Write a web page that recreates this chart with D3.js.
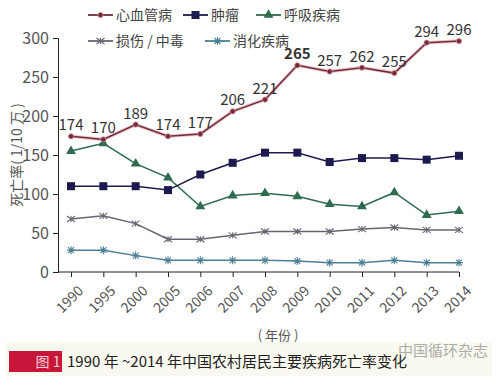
<!DOCTYPE html>
<html><head><meta charset="utf-8">
<script src="https://cdn.jsdelivr.net/npm/d3@7"></script>
<style>body{margin:0;background:#fff}svg{display:block}text{font-family:"Noto Sans CJK SC","Liberation Sans",sans-serif}</style>
</head><body><svg id="c" width="502" height="390"></svg>
<script>
const years = ["1990","1995","2000","2005","2006","2007","2008","2009","2010","2011","2012","2013","2014"];
const cardio = [174,170,189,174,177,206,221,265,257,262,255,294,296];
const tumor = [110,110,110,105,125,140,153,153,141,146,146,144,149];
const resp = [155,165,139,121,84,98,101,97,87,84,102,73,78];
const injury = [68,72,62,42,42,47,52,52,52,55,57,54,54];
const digest = [28,28,21,15,15,15,15,14,12,12,15,12,12];
const yTicks = [0,50,100,150,200,250,300];

const svg = d3.select("#c");
const x = d3.scalePoint().domain(years).range([71,459]);
const y = d3.scaleLinear().domain([0,300]).range([272,38]);

// y axis
const ya = svg.append("g").attr("transform","translate(58,0)")
  .call(d3.axisLeft(y).tickValues(yTicks).tickSize(5).tickPadding(4));
ya.select(".domain").attr("stroke","#222");
ya.selectAll(".tick line").attr("stroke","#222");
ya.selectAll("text").attr("font-size",16).attr("fill","#555").attr("font-family","Liberation Sans, sans-serif");

// x axis
const xa = svg.append("g").attr("transform","translate(0,272)")
  .call(d3.axisBottom(x).tickSize(5).tickSizeOuter(0));
xa.select(".domain").attr("d","M58,0H459").attr("stroke","#222");
xa.selectAll(".tick line").attr("stroke","#222");
xa.selectAll("text").attr("font-size",14).attr("fill","#555").attr("font-family","Liberation Sans, sans-serif")
  .attr("text-anchor","end").attr("dy","0").attr("transform","translate(7,14) rotate(-45)");

// axis titles
svg.append("text").attr("transform","translate(22,155) rotate(-90)").attr("text-anchor","middle")
  .attr("font-size",14).attr("fill","#555").text("死亡率( 1/10 万 )");
svg.append("text").attr("x",278).attr("y",340).attr("text-anchor","middle")
  .attr("font-size",13).attr("fill","#555").text("( 年份 )");

const line = d3.line().x((d,i)=>x(years[i])).y(d=>y(d));

const series = [
  {name:"心血管病", data:cardio, color:"#6b2d3a", marker:"dot"},
  {name:"肿瘤", data:tumor, color:"#1c1a4e", marker:"square"},
  {name:"呼吸疾病", data:resp, color:"#2f6b4f", marker:"triangle"},
  {name:"损伤 / 中毒", data:injury, color:"#666670", marker:"cross"},
  {name:"消化疾病", data:digest, color:"#4a7f96", marker:"aster"}
];

function marker(g, type, color, cx, cy){
  if(type==="dot"){
    g.append("circle").attr("cx",cx).attr("cy",cy).attr("r",2.6).attr("fill",color).attr("stroke","#e08a9a").attr("stroke-width",0.8);
  } else if(type==="square"){
    g.append("rect").attr("x",cx-4).attr("y",cy-4).attr("width",8).attr("height",8).attr("fill",color);
  } else if(type==="triangle"){
    g.append("path").attr("d",d3.symbol(d3.symbolTriangle,42)()).attr("transform",`translate(${cx},${cy})`).attr("fill",color);
  } else if(type==="cross"){
    g.append("path").attr("d",`M${cx-4},${cy-3}L${cx+4},${cy+3}M${cx-4},${cy+3}L${cx+4},${cy-3}M${cx},${cy-3}V${cy+3}`)
      .attr("stroke",color).attr("stroke-width",1.1).attr("fill","none");
  } else {
    g.append("path").attr("d",`M${cx-4},${cy}H${cx+4}M${cx-3},${cy-3}L${cx+3},${cy+3}M${cx-3},${cy+3}L${cx+3},${cy-3}M${cx},${cy-4}V${cy+4}`)
      .attr("stroke",color).attr("stroke-width",1.1).attr("fill","none");
  }
}

series.slice().reverse().forEach(s=>{
  const g = svg.append("g");
  if(s.marker==="dot"){
    g.append("path").datum(s.data).attr("d",line).attr("fill","none").attr("stroke","#f3c4cc").attr("stroke-width",3.5);
  }
  g.append("path").datum(s.data).attr("d",line).attr("fill","none").attr("stroke",s.color).attr("stroke-width",1.5);
  s.data.forEach((d,i)=>marker(g,s.marker,s.color,x(years[i]),y(d)));
});

// cardio labels
svg.append("g").selectAll("text").data(cardio).join("text")
  .attr("x",(d,i)=>x(years[i])).attr("y",d=>y(d)-6).attr("text-anchor","middle")
  .attr("font-size",15).attr("fill","#333").attr("font-family","Liberation Sans, sans-serif")
  .attr("font-weight",(d,i)=>i===7?"bold":"normal").text(d=>d);

// legend
const leg = [
  {s:series[0], lx:88, ly:15},
  {s:series[1], lx:183, ly:15},
  {s:series[2], lx:256, ly:15},
  {s:series[3], lx:88, ly:41},
  {s:series[4], lx:205, ly:41}
];
leg.forEach(l=>{
  const g = svg.append("g");
  g.append("line").attr("x1",l.lx).attr("x2",l.lx+25).attr("y1",l.ly).attr("y2",l.ly).attr("stroke",l.s.color).attr("stroke-width",1.8);
  marker(g,l.s.marker,l.s.color,l.lx+12.5,l.ly);
  g.append("text").attr("x",l.lx+28).attr("y",l.ly+5).attr("font-size",14).attr("fill","#444").text(l.s.name);
});

// caption strip
svg.append("rect").attr("x",6).attr("y",342).attr("width",486).attr("height",34).attr("fill","#faf9ef");
svg.append("rect").attr("x",9).attr("y",351).attr("width",53).attr("height",21).attr("fill","#c8163a");
svg.append("text").attr("x",48).attr("y",367).attr("text-anchor","middle").attr("font-size",14).attr("fill","#f4d0d8").text("图 1");
svg.append("text").attr("x",67).attr("y",367).attr("font-size",15).attr("fill","#222").text("1990 年 ~2014 年中国农村居民主要疾病死亡率变化");
svg.append("text").attr("x",488).attr("y",356).attr("text-anchor","end").attr("font-size",15).attr("fill","#999").attr("opacity",0.8).text("中国循环杂志");
</script></body></html>
